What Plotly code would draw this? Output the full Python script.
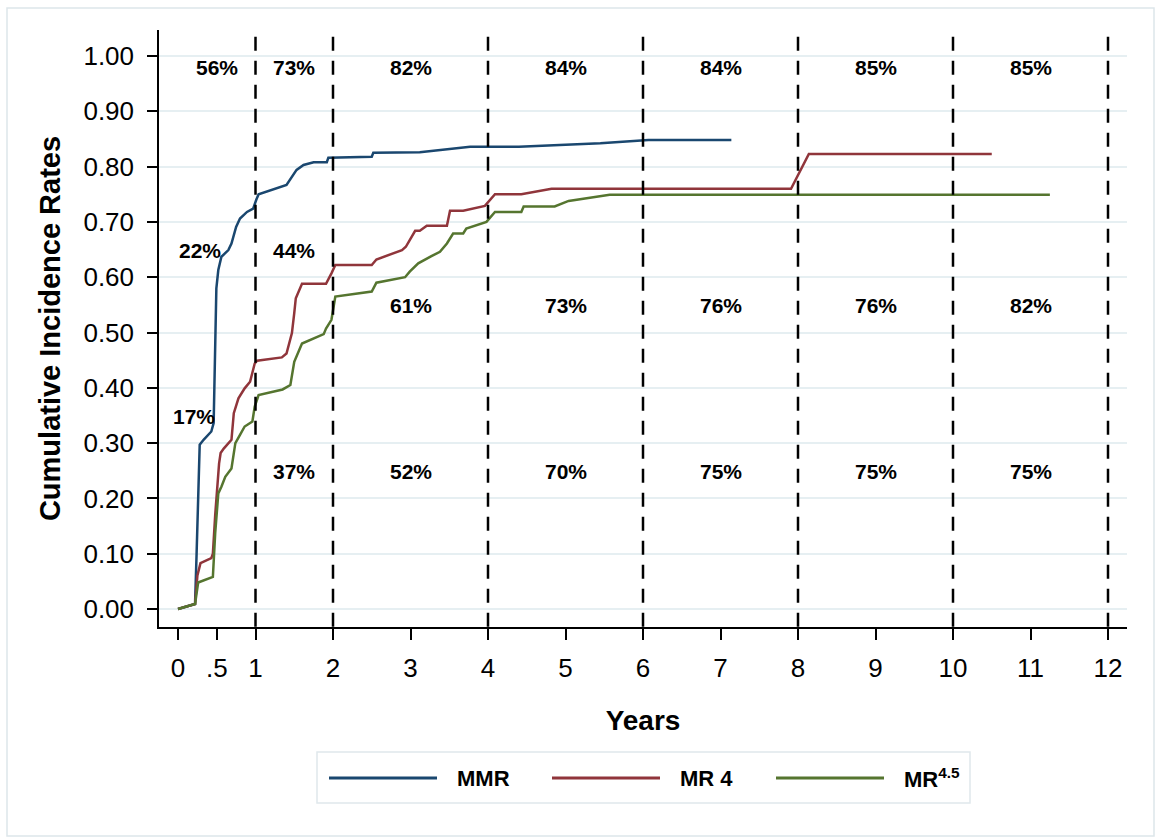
import plotly.graph_objects as go

# ---------------- data ----------------
series_names = ["MMR", "MR 4", "MR<sup>4.5</sup>"]
series_colors = ["#1A476F", "#90353B", "#55752F"]

mmr_x = [0, 0.22, 0.24, 0.26, 0.28, 0.33, 0.43, 0.46, 0.47, 0.485, 0.495, 0.52, 0.56,
         0.65, 0.69, 0.75, 0.80, 0.89, 0.97, 1.01, 1.04, 1.40, 1.47, 1.53, 1.62, 1.75,
         1.92, 1.94, 2.50, 2.52, 3.12, 3.77, 4.40, 5.45, 6.07, 7.14]
mmr_y = [0, 0.009, 0.10, 0.22, 0.297, 0.306, 0.321, 0.336, 0.402, 0.50, 0.58, 0.613, 0.637,
         0.649, 0.661, 0.691, 0.706, 0.718, 0.724, 0.740, 0.750, 0.767, 0.782, 0.794, 0.803, 0.808,
         0.808, 0.816, 0.818, 0.825, 0.826, 0.836, 0.836, 0.842, 0.848, 0.848]

mr4_x = [0, 0.22, 0.25, 0.27, 0.29, 0.43, 0.45, 0.48, 0.52, 0.53, 0.55, 0.59, 0.69, 0.72,
         0.78, 0.86, 0.93, 0.99, 1.02, 1.34, 1.40, 1.47, 1.50, 1.52, 1.60, 1.91, 1.98, 2.03,
         2.50, 2.56, 2.89, 2.94, 3.06, 3.12, 3.21, 3.47, 3.51, 3.68, 3.96, 4.09, 4.43, 4.82,
         7.91, 8.14, 10.50]
mr4_y = [0, 0.009, 0.06, 0.074, 0.083, 0.092, 0.10, 0.17, 0.25, 0.263, 0.282, 0.290, 0.306, 0.354,
         0.381, 0.399, 0.411, 0.444, 0.449, 0.455, 0.462, 0.499, 0.535, 0.562, 0.588, 0.588, 0.607, 0.622,
         0.622, 0.632, 0.649, 0.655, 0.684, 0.684, 0.693, 0.693, 0.720, 0.720, 0.729, 0.750, 0.750, 0.760,
         0.760, 0.823, 0.823]

mr45_x = [0, 0.22, 0.26, 0.45, 0.48, 0.52, 0.56, 0.61, 0.69, 0.74, 0.80, 0.86, 0.96, 0.99,
          1.04, 1.35, 1.45, 1.50, 1.60, 1.88, 1.91, 1.98, 2.03, 2.50, 2.56, 2.93, 2.99, 3.10,
          3.27, 3.38, 3.47, 3.55, 3.68, 3.72, 3.98, 4.09, 4.43, 4.46, 4.86, 5.04, 5.57, 11.25]
mr45_y = [0, 0.009, 0.048, 0.058, 0.137, 0.209, 0.221, 0.239, 0.254, 0.300, 0.315, 0.330, 0.339, 0.366,
          0.387, 0.397, 0.405, 0.447, 0.480, 0.497, 0.507, 0.523, 0.565, 0.574, 0.590, 0.600, 0.610, 0.625,
          0.638, 0.646, 0.661, 0.679, 0.679, 0.688, 0.700, 0.718, 0.718, 0.728, 0.728, 0.738, 0.749, 0.749]

x_tickvals = [0, 0.5, 1, 2, 3, 4, 5, 6, 7, 8, 9, 10, 11, 12]
x_ticktext = ["0", ".5", "1", "2", "3", "4", "5", "6", "7", "8", "9", "10", "11", "12"]
y_tickvals = [0.0, 0.1, 0.2, 0.3, 0.4, 0.5, 0.6, 0.7, 0.8, 0.9, 1.0]
y_ticktext = ["0.00", "0.10", "0.20", "0.30", "0.40", "0.50", "0.60", "0.70", "0.80", "0.90", "1.00"]

period_bounds = [1, 2, 4, 6, 8, 10, 12]

# percentage labels: (x, y, text)
label_x = [0.5, 1.5, 3, 5, 7, 9, 11,
           0.29, 1.5,
           3, 5, 7, 9, 11,
           0.205,
           1.5, 3, 5, 7, 9, 11]
label_y = [0.98] * 7 + [0.648] * 2 + [0.549] * 5 + [0.349] + [0.248] * 6
label_text = ["56%", "73%", "82%", "84%", "84%", "85%", "85%",
              "22%", "44%",
              "61%", "73%", "76%", "76%", "82%",
              "17%",
              "37%", "52%", "70%", "75%", "75%", "75%"]

# ---------------- layout constants ----------------
W, H = 1155, 840
PL, PR, PT, PB = 159, 1127, 30, 627   # plot area in pixels
FONT = "Liberation Sans, Arial, Helvetica, sans-serif"


def px2paper_x(px):
    return (px - PL) / (PR - PL)


def px2paper_y(py):
    return (PB - py) / (PB - PT)


fig = go.Figure()
for xs, ys, name, col in zip([mmr_x, mr4_x, mr45_x], [mmr_y, mr4_y, mr45_y],
                             series_names, series_colors):
    fig.add_trace(go.Scatter(x=xs, y=ys, mode="lines", name=name,
                             line=dict(color=col, width=2.5), showlegend=False))

shapes = []
for b in period_bounds:
    shapes.append(dict(type="line", xref="x", yref="y", x0=b, x1=b, y0=1.035, y1=-0.0325,
                       line=dict(color="black", width=2.5, dash="14px,10px"), layer="above"))

# outer frame
shapes.append(dict(type="rect", xref="paper", yref="paper",
                   x0=px2paper_x(7), x1=px2paper_x(1154), y0=px2paper_y(836), y1=px2paper_y(8),
                   line=dict(color="#DDE6EA", width=1.5), fillcolor="rgba(0,0,0,0)", layer="below"))
# legend box
shapes.append(dict(type="rect", xref="paper", yref="paper",
                   x0=px2paper_x(317), x1=px2paper_x(970), y0=px2paper_y(803), y1=px2paper_y(752),
                   line=dict(color="#E0E8EC", width=1.5), fillcolor="rgba(0,0,0,0)"))

annotations = []
for x, y, t in zip(label_x, label_y, label_text):
    annotations.append(dict(x=x, y=y, xref="x", yref="y", text=t, showarrow=False,
                            font=dict(family=FONT, size=21, color="black", weight="bold"),
                            xanchor="center", yanchor="middle"))

# custom legend
leg_line_start = [329, 552, 776]
leg_line_len = 108
leg_y = 778
for i, (name, col) in enumerate(zip(series_names, series_colors)):
    x0 = leg_line_start[i]
    shapes.append(dict(type="line", xref="paper", yref="paper",
                       x0=px2paper_x(x0), x1=px2paper_x(x0 + leg_line_len),
                       y0=px2paper_y(leg_y), y1=px2paper_y(leg_y),
                       line=dict(color=col, width=3)))
    annotations.append(dict(x=px2paper_x(x0 + leg_line_len + 18), y=px2paper_y(leg_y),
                            xref="paper", yref="paper", text=name, showarrow=False,
                            xanchor="left", yanchor="middle",
                            font=dict(family=FONT, size=22, color="black", weight="bold")))

fig.update_layout(
    width=W, height=H,
    margin=dict(l=PL, r=W - PR, t=PT, b=H - PB, pad=0),
    paper_bgcolor="white", plot_bgcolor="white",
    shapes=shapes, annotations=annotations,
    showlegend=False,
    font=dict(family=FONT, color="black"),
)

x_min = (PL - 178) / 77.5
x_max = (PR - 178) / 77.5
fig.update_xaxes(
    range=[x_min, x_max], tickvals=x_tickvals, ticktext=x_ticktext,
    showline=True, linecolor="black", linewidth=1.5, ticks="outside", ticklen=11,
    tickwidth=1.5, tickcolor="black", showgrid=False, zeroline=False,
    tickfont=dict(family=FONT, size=26, color="black"), ticklabelstandoff=6,
    title=dict(text="Years", font=dict(family=FONT, size=28, color="black", weight="bold"),
               standoff=28),
)
y_min = (609 - PB) / 553
y_max = (609 - PT) / 553
fig.update_yaxes(
    range=[y_min, y_max], tickvals=y_tickvals, ticktext=y_ticktext,
    showline=True, linecolor="black", linewidth=1.5, ticks="outside", ticklen=10,
    tickwidth=1.5, tickcolor="black", showgrid=True, gridcolor="#E6EFF2", gridwidth=1.5,
    zeroline=False,
    tickfont=dict(family=FONT, size=26, color="black"), ticklabelstandoff=8,
    title=dict(text="Cumulative Incidence Rates",
               font=dict(family=FONT, size=29, color="black", weight="bold"), standoff=14),
)

fig.write_html("out.html")
